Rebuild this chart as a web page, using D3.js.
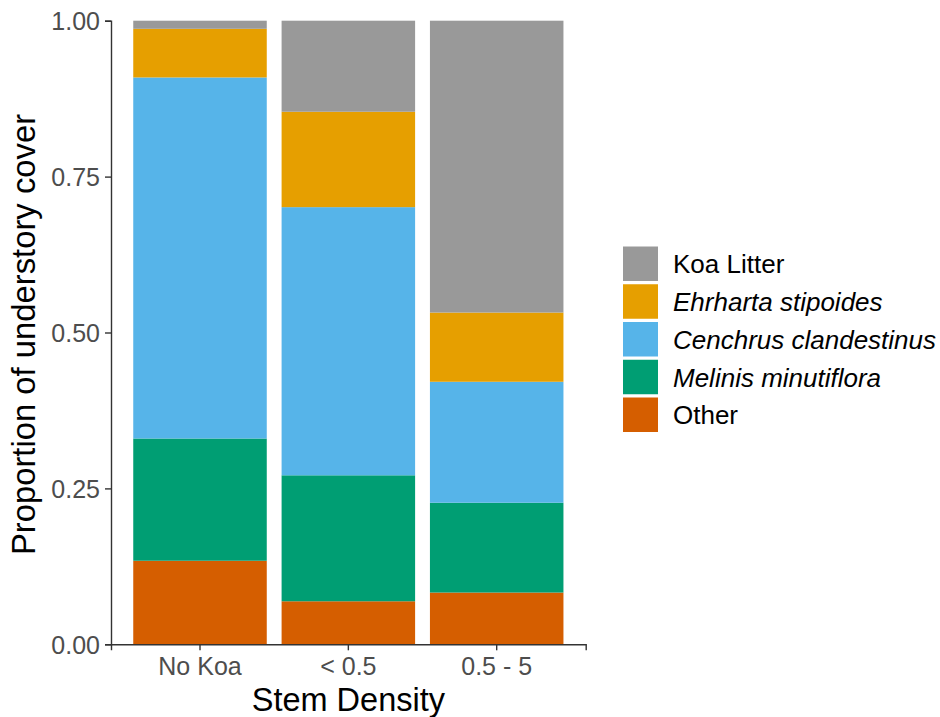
<!DOCTYPE html>
<html>
<head>
<meta charset="utf-8">
<script src="https://cdn.jsdelivr.net/npm/d3@7"></script>
<style>
  html, body { margin: 0; padding: 0; background: #fff; }
  svg { display: block; font-family: "Liberation Sans", Arial, sans-serif; }
</style>
</head>
<body>
<svg id="chart" width="940" height="717"></svg>
<script>
// ---- data ----
const categories = ["No Koa", "< 0.5", "0.5 - 5"];
const seriesNames = ["Other", "Melinis minutiflora", "Cenchrus clandestinus", "Ehrharta stipoides", "Koa Litter"]; // bottom to top
const other    = [0.134, 0.069, 0.083];
const melinis  = [0.196, 0.202, 0.144];
const cenchrus = [0.579, 0.430, 0.194];
const ehrharta = [0.078, 0.153, 0.111];
const koa      = [0.013, 0.146, 0.468];
const yTicks = [0, 0.25, 0.5, 0.75, 1];
const legendOrder = ["Koa Litter", "Ehrharta stipoides", "Cenchrus clandestinus", "Melinis minutiflora", "Other"];
const italicNames = ["Ehrharta stipoides", "Cenchrus clandestinus", "Melinis minutiflora"];
const colors = {
  "Koa Litter": "#999999",
  "Ehrharta stipoides": "#E69F00",
  "Cenchrus clandestinus": "#56B4E9",
  "Melinis minutiflora": "#009E73",
  "Other": "#D55E00"
};

const seriesValues = {
  "Other": other,
  "Melinis minutiflora": melinis,
  "Cenchrus clandestinus": cenchrus,
  "Ehrharta stipoides": ehrharta,
  "Koa Litter": koa
};
const table = categories.map((c, i) => {
  const row = { cat: c };
  seriesNames.forEach(s => row[s] = seriesValues[s][i]);
  return row;
});

// ---- layout ----
const svg = d3.select("#chart");
const plotL = 111, plotR = 585.7, plotT = 20.7, plotB = 644.3;

const x = d3.scaleBand().domain(categories).range([plotL, plotR])
  .paddingInner(0.1).paddingOuter(0.15);
const y = d3.scaleLinear().domain([0, 1]).range([plotB, plotT]);

const stacked = d3.stack().keys(seriesNames)(table);

svg.append("g").selectAll("g")
  .data(stacked).join("g")
  .attr("fill", d => colors[d.key])
  .selectAll("rect")
  .data(d => d).join("rect")
  .attr("x", d => x(d.data.cat))
  .attr("width", x.bandwidth())
  .attr("y", d => y(d[1]))
  .attr("height", d => y(d[0]) - y(d[1]));

// axes
const tickFmt = d3.format(".2f");
const yAxis = svg.append("g")
  .attr("transform", `translate(${plotL},0)`)
  .call(d3.axisLeft(y).tickValues(yTicks).tickFormat(tickFmt).tickSize(6).tickPadding(5));
const xAxis = svg.append("g")
  .attr("transform", `translate(0,${plotB})`)
  .call(d3.axisBottom(x).tickSize(6).tickPadding(6));

[yAxis, xAxis].forEach(a => {
  a.select(".domain").attr("stroke", "#333333").attr("stroke-width", 1.4);
  a.selectAll(".tick line").attr("stroke", "#333333").attr("stroke-width", 1.4);
  a.selectAll(".tick text").attr("fill", "#4d4d4d").style("font-size", "25px")
    .style("font-family", "'Liberation Sans', Arial, sans-serif");
});
yAxis.selectAll(".tick text").attr("dy", "0.36em");
xAxis.selectAll(".tick text").attr("dy", "0.75em");

// axis titles
svg.append("text")
  .attr("x", (plotL + plotR) / 2).attr("y", 711)
  .attr("text-anchor", "middle")
  .style("font-size", "32.5px").attr("fill", "#000")
  .text("Stem Density");

svg.append("text")
  .attr("transform", `translate(35,${(plotT + plotB) / 2 + 2}) rotate(-90)`)
  .attr("text-anchor", "middle")
  .style("font-size", "32.8px").attr("fill", "#000")
  .text("Proportion of understory cover");

// legend
const legend = svg.append("g").attr("transform", "translate(623,246.5)");
const keyStep = 37.75;
const items = legend.selectAll("g").data(legendOrder).join("g")
  .attr("transform", (d, i) => `translate(0,${i * keyStep})`);
items.append("rect")
  .attr("x", 0).attr("y", 0).attr("width", 35).attr("height", 34.5)
  .attr("fill", d => colors[d]);
items.append("text")
  .attr("x", 50).attr("y", 17.5).attr("dy", "0.36em")
  .style("font-size", "26px")
  .style("font-style", d => italicNames.includes(d) ? "italic" : "normal")
  .attr("fill", "#000")
  .text(d => d);
</script>
</body>
</html>
